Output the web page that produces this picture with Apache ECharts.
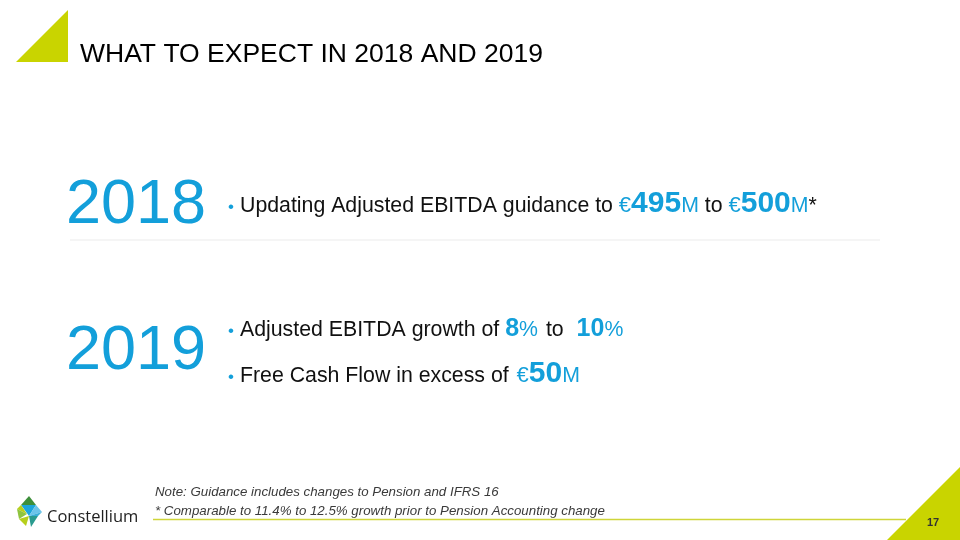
<!DOCTYPE html>
<html><head><meta charset="utf-8">
<script src="https://cdn.jsdelivr.net/npm/echarts@6/dist/echarts.min.js"></script>
<style>html,body{margin:0;padding:0;background:#fff}#c{width:960px;height:540px}</style>
</head><body><div id="c"></div>
<script>
// ---- content ----
const titleText = 'WHAT TO EXPECT IN 2018 AND 2019';
const years = ['2018', '2019'];
const ebitda2018 = [495, 500];   // € millions, guidance range
const growth2019 = [8, 10];      // %, adjusted EBITDA growth range
const fcf2019 = [50];            // € millions, free cash flow floor
const noteLines = [
  'Note: Guidance includes changes to Pension and IFRS 16',
  '* Comparable to 11.4% to 12.5% growth prior to Pension Accounting change'
];
const brandName = 'Constellium';
const pageNumber = '17';

// ---- styles ----
const FONT = '"Liberation Sans", Arial, Helvetica, sans-serif';
const BLUE = '#139fda', BLACK = '#111111', LIME = '#c9d400';
const sBody = {size: 21.3, color: BLACK};
const sBlue = {size: 21.3, color: BLUE};
const sEuro = {size: 22, color: BLUE};
const sBig = {size: 30, bold: true, color: BLUE};
const sMid = {size: 25, bold: true, color: BLUE};

const cv = document.createElement('canvas').getContext('2d');
function fontStr(s) { return (s.italic ? 'italic ' : '') + (s.bold ? 'bold ' : '') + s.size + 'px ' + (s.family || FONT); }
function textWidth(t, s) { cv.font = fontStr(s); return cv.measureText(t).width; }
function midOffset(s) {
  cv.font = fontStr(s);
  cv.textBaseline = 'alphabetic';
  const a = cv.measureText('H').fontBoundingBoxAscent;
  cv.textBaseline = 'middle';
  const b = cv.measureText('H').fontBoundingBoxAscent;
  cv.textBaseline = 'alphabetic';
  const d = a - b;
  return (d == null || isNaN(d)) ? 0.33 * s.size : d;
}
function textEl(t, x, baseline, s, align) {
  return {type: 'text', x: x, y: baseline - midOffset(s), silent: true, z: 10,
    style: {text: t, fill: s.color, fontSize: s.size, fontFamily: s.family || FONT,
      fontWeight: s.bold ? 'bold' : 'normal', fontStyle: s.italic ? 'italic' : 'normal',
      align: align || 'left', verticalAlign: 'middle'}};
}
// a segment is [text, style]; a plain number is extra horizontal spacing
function row(segs, x, baseline) {
  const out = [];
  segs.forEach(seg => {
    if (typeof seg === 'number') { x += seg; return; }
    const [t, s] = seg;
    out.push(textEl(t, x, baseline, s));
    x += textWidth(t, s);
  });
  return out;
}

const els = [];
// decorative triangles
els.push({type: 'polygon', shape: {points: [[16, 62], [68, 62], [68, 10]]}, style: {fill: LIME}, silent: true});
els.push({type: 'polygon', shape: {points: [[887, 540], [960, 540], [960, 467]]}, style: {fill: LIME}, silent: true});
// title
els.push(textEl(titleText, 80, 62, {size: 26.5, color: '#000000'}));
// years
els.push(textEl(years[0], 66, 223, {size: 63, color: BLUE}));
els.push(textEl(years[1], 66, 369, {size: 63, color: BLUE}));
// separator
els.push({type: 'line', shape: {x1: 70, y1: 240, x2: 880, y2: 240}, style: {stroke: '#ebebeb', lineWidth: 1}, silent: true});

// bullets
const bulletX = 228;
const lines = [
  {baseline: 212, segs: [
    ['Updating Adjusted EBITDA guidance to ', sBody], ['€', sEuro], [String(ebitda2018[0]), sBig], ['M', sBlue],
    [' to ', sBody], ['€', sEuro], [String(ebitda2018[1]), sBig], ['M', sBlue], ['*', sBody]]},
  {baseline: 336, segs: [
    ['Adjusted EBITDA growth of ', sBody], [String(growth2019[0]), sMid], ['%', sBlue],
    [' ', sBody], 2, ['to ', sBody], 7, [String(growth2019[1]), sMid], ['%', sBlue]]},
  {baseline: 382, segs: [
    ['Free Cash Flow in excess of ', sBody], 2, ['€', sEuro], [String(fcf2019[0]), sBig], ['M', sBlue]]}
];
lines.forEach(l => {
  els.push(textEl('•', bulletX, l.baseline, {size: 17, color: BLUE}));
  row(l.segs, 240, l.baseline).forEach(e => els.push(e));
});

// notes
const sNote = {size: 13.3, italic: true, color: '#3a3a3a'};
els.push(textEl(noteLines[0], 155, 496, sNote));
els.push(textEl(noteLines[1], 155, 515, sNote));
els.push({type: 'line', shape: {x1: 153, y1: 519.5, x2: 906, y2: 519.5}, style: {stroke: '#cfd53a', lineWidth: 1.5}, silent: true});

// page number
els.push(textEl(pageNumber, 933, 526, {size: 11, bold: true, color: '#333333'}, 'center'));

// logo mark (approximation of the Constellium mosaic)
const logo = [
  [[[29, 496], [21, 505], [36, 505]], '#3d8f3a'],
  [[[21, 505], [36, 505], [29, 516]], '#1ba6dc'],
  [[[36, 505], [42, 512], [29, 516]], '#6cc4ea'],
  [[[17, 509], [21, 505], [27, 514]], '#b6cf1b'],
  [[[17, 509], [27, 514], [19, 519]], '#8fc43f'],
  [[[19, 519], [29, 516], [26, 526]], '#b6cf1b'],
  [[[29, 516], [38, 516], [31, 527]], '#2a9b8f'],
  [[[29, 516], [38, 516], [42, 512]], '#3aaed8']
];
logo.forEach(([pts, c]) => els.push({type: 'polygon', shape: {points: pts}, style: {fill: c}, silent: true}));
els.push(textEl(brandName, 47, 522, {size: 16.5, color: '#1e1e1e', family: '"Open Sans", "Noto Sans", sans-serif'}));

const chart = echarts.init(document.getElementById('c'), null, {renderer: 'canvas'});
chart.setOption({backgroundColor: '#ffffff', animation: false, graphic: {elements: els}});
</script>
</body></html>
